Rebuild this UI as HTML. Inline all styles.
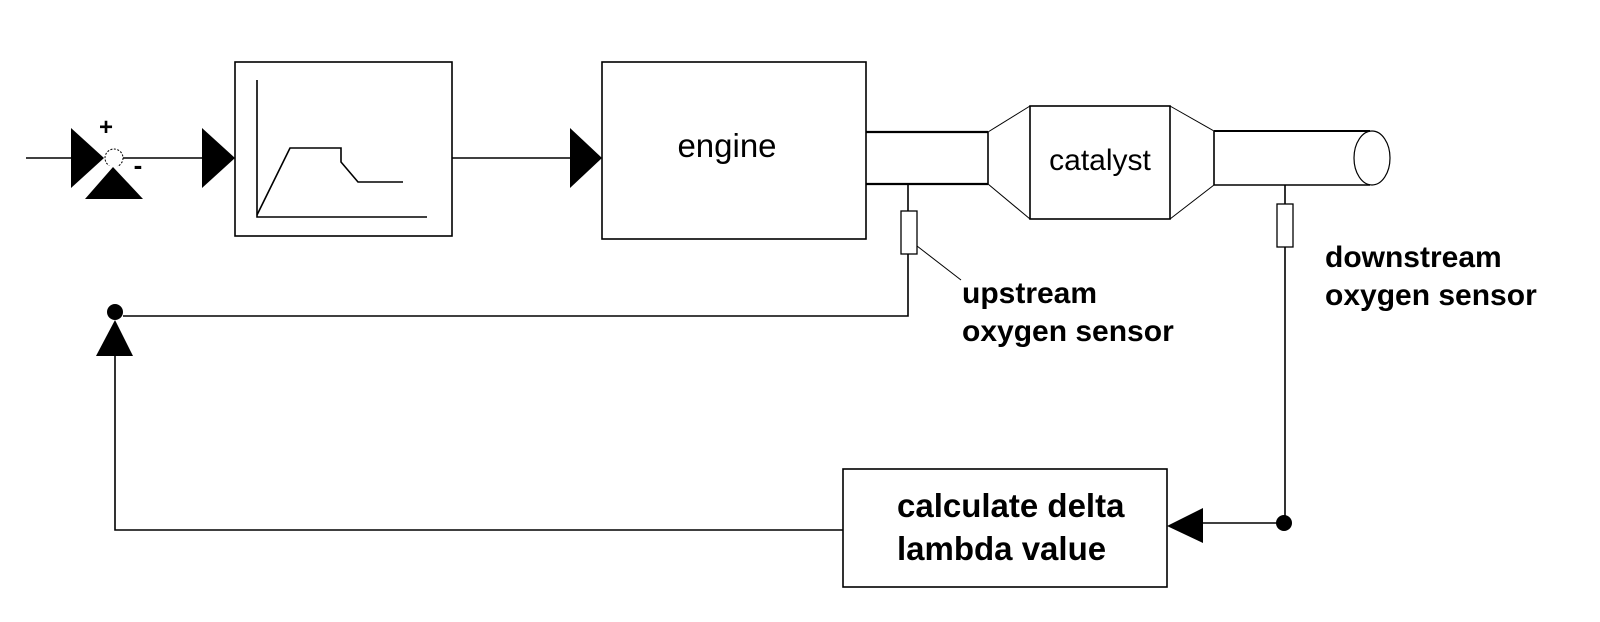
<!DOCTYPE html>
<html><head><meta charset="utf-8"><style>
html,body{margin:0;padding:0;background:#fff;}
svg{display:block;}
text{font-family:"Liberation Sans",Arial,sans-serif;fill:#000;}
</style></head><body>
<svg width="1600" height="622" viewBox="0 0 1600 622" xmlns="http://www.w3.org/2000/svg">
<g stroke="#000" stroke-width="1.6" fill="none">
  <line x1="26" y1="158" x2="72" y2="158"/>
  <line x1="123" y1="158" x2="203" y2="158"/>
  <rect x="235" y="62" width="217" height="174"/>
  <polyline points="257,80 257,217 427,217"/>
  <polyline points="257,215 290,148 341,148 341,162 358,182 403,182"/>
  <line x1="452" y1="158" x2="571" y2="158"/>
  <rect x="602" y="62" width="264" height="177"/>
  <line x1="866" y1="132" x2="988" y2="132" stroke-width="2.2"/>
  <line x1="866" y1="184" x2="988" y2="184" stroke-width="2.2"/>
  <line x1="988" y1="132" x2="988" y2="184"/>
  <line x1="988" y1="132" x2="1030" y2="106" stroke-width="1"/>
  <line x1="988" y1="184" x2="1030" y2="219" stroke-width="1"/>
  <rect x="1030" y="106" width="140" height="113"/>
  <line x1="1170" y1="106" x2="1214" y2="131" stroke-width="1"/>
  <line x1="1170" y1="219" x2="1214" y2="185" stroke-width="1"/>
  <line x1="1214" y1="131" x2="1214" y2="185"/>
  <line x1="1214" y1="131" x2="1370" y2="131" stroke-width="2"/>
  <line x1="1214" y1="185" x2="1370" y2="185"/>
  <ellipse cx="1372" cy="158" rx="18" ry="27" stroke-width="1.2"/>
  <line x1="908" y1="184" x2="908" y2="211"/>
  <rect x="901" y="211" width="16" height="43" stroke-width="1.3"/>
  <polyline points="908,254 908,316 123,316"/>
  <line x1="917" y1="246" x2="961" y2="280" stroke-width="1"/>
  <polyline points="115,356 115,530 843,530"/>
  <line x1="1285" y1="185" x2="1285" y2="204"/>
  <rect x="1277" y="204" width="16" height="43" stroke-width="1.3"/>
  <polyline points="1285,247 1285,523 1203,523"/>
  <rect x="843" y="469" width="324" height="118"/>
  <circle cx="114" cy="158" r="9" stroke-width="1" stroke-dasharray="2,1.5"/>
</g>
<g fill="#000" stroke="none">
  <polygon points="71,128 71,188 104,158"/>
  <polygon points="202,128 202,188 235,158"/>
  <polygon points="570,128 570,188 602,158"/>
  <polygon points="1167,526 1203,508 1203,543"/>
  <circle cx="1284" cy="523" r="8"/>
  <circle cx="115" cy="312" r="8"/>
  <polygon points="115,320 96,356 133,356"/>
</g>
<polygon points="113,165 83,199 143,199" fill="#000" stroke="#fff" stroke-width="5" stroke-linejoin="miter"/>
<polygon points="113,167 85,199 143,199" fill="#000"/>
<text x="106" y="135" font-size="24" font-weight="bold" text-anchor="middle">+</text>
<text x="138" y="174" font-size="26" font-weight="bold" text-anchor="middle">-</text>
<text x="727" y="157" font-size="33" text-anchor="middle">engine</text>
<text x="1100" y="170" font-size="30" text-anchor="middle">catalyst</text>
<g font-weight="bold" font-size="30">
  <text x="962" y="303">upstream</text>
  <text x="962" y="341">oxygen sensor</text>
  <text x="1325" y="267">downstream</text>
  <text x="1325" y="305">oxygen sensor</text>
</g>
<g font-weight="bold" font-size="33">
  <text x="897" y="517">calculate delta</text>
  <text x="897" y="560">lambda value</text>
</g>
</svg>
</body></html>
